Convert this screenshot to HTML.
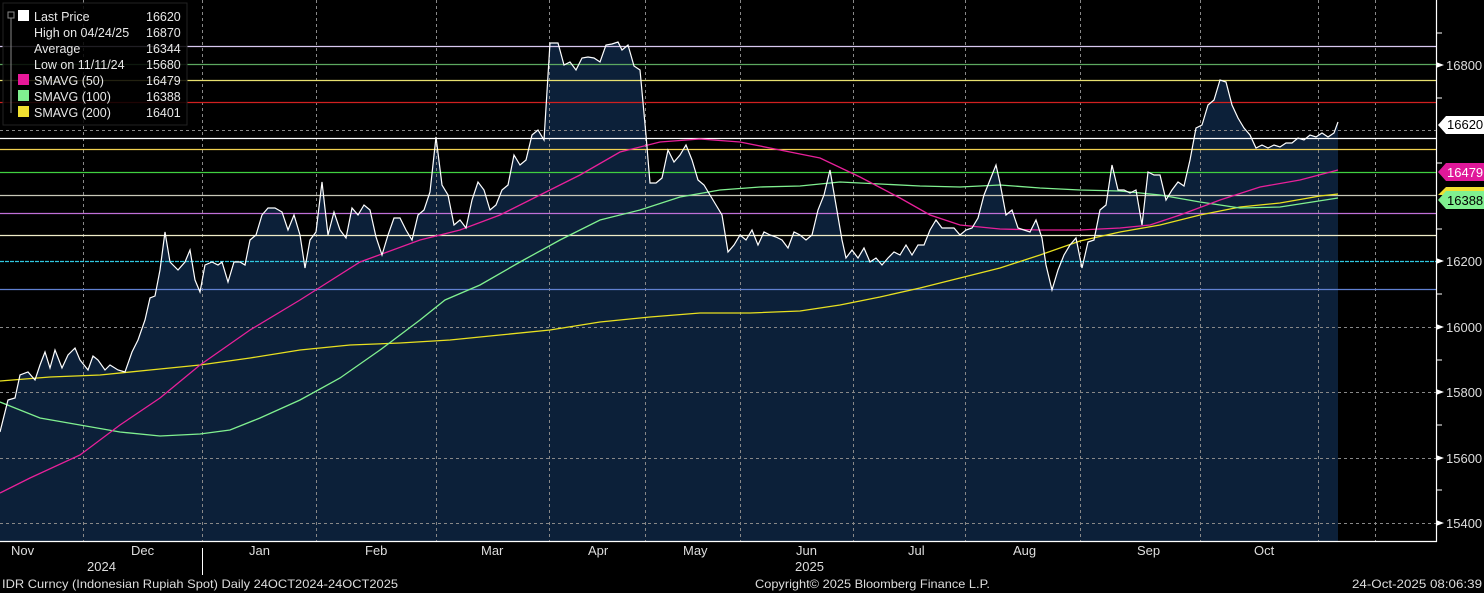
<!DOCTYPE html>
<html><head><style>
html,body{margin:0;padding:0;background:#000;}
svg{display:block;font-family:"Liberation Sans","DejaVu Sans",sans-serif;}
</style></head><body>
<svg width="1484" height="593" viewBox="0 0 1484 593" xmlns="http://www.w3.org/2000/svg">
<rect width="1484" height="593" fill="#000"/>
<polygon fill="#0c2039" points="0,541 0,432 8,400 15,398 20,375 28,372 35,380 40,365 45,352 50,368 55,350 62,368 68,355 75,348 80,360 88,370 93,356 98,360 105,370 110,365 118,370 125,372 132,352 138,340 145,320 150,298 155,296 160,270 165,232 170,262 178,270 185,262 190,250 195,280 200,292 205,265 212,262 218,265 222,262 228,282 234,262 240,262 245,265 250,240 256,235 262,215 268,208 275,208 282,212 288,230 294,215 300,235 305,268 310,240 316,232 322,182 328,235 334,212 340,230 346,238 352,208 358,215 364,205 370,210 376,237 382,255 388,235 394,218 400,218 406,230 412,240 418,215 424,210 430,192 436,137 442,185 448,195 454,225 460,220 466,228 472,200 478,182 484,190 490,210 496,205 502,190 508,185 514,155 520,165 526,160 532,135 538,130 544,140 550,43 558,43 564,65 570,62 576,70 582,58 588,57 594,58 600,62 606,45 612,44 618,42 622,50 628,45 634,66 640,70 646,135 650,183 656,183 662,178 668,150 674,162 680,155 686,145 692,160 698,180 704,185 710,195 716,205 722,215 728,252 734,245 740,235 746,240 752,230 758,245 764,232 770,235 776,237 782,240 788,248 794,232 800,235 806,240 812,235 818,210 824,195 830,170 836,205 842,240 846,258 852,250 858,258 864,248 870,262 876,258 882,265 888,258 894,252 900,255 906,245 912,255 918,245 924,245 930,230 936,220 942,228 948,228 954,228 960,235 966,230 972,228 978,218 984,195 990,180 996,165 1000,183 1006,215 1012,210 1018,228 1024,230 1030,232 1036,220 1042,238 1046,265 1052,290 1058,270 1064,255 1070,245 1076,238 1082,268 1088,242 1094,240 1100,210 1106,205 1112,165 1118,190 1124,190 1130,193 1136,190 1142,225 1148,172 1154,175 1160,175 1166,200 1172,190 1178,182 1184,186 1190,160 1196,128 1202,125 1208,105 1214,100 1220,80 1226,82 1232,105 1238,118 1244,128 1250,135 1256,148 1262,145 1268,148 1274,145 1280,147 1286,143 1292,143 1298,138 1304,140 1310,135 1316,137 1322,133 1328,137 1334,133 1338,122 1338,541"/>
<g stroke="#888" stroke-width="1" stroke-dasharray="3,3" fill="none">
<line x1="0" y1="130.5" x2="1436" y2="130.5"/>
<line x1="0" y1="327.5" x2="1436" y2="327.5"/>
<line x1="0" y1="392.5" x2="1436" y2="392.5"/>
<line x1="0" y1="458.5" x2="1436" y2="458.5"/>
<line x1="0" y1="523.5" x2="1436" y2="523.5"/>
<line x1="83.5" y1="0" x2="83.5" y2="541"/>
<line x1="202.5" y1="0" x2="202.5" y2="541"/>
<line x1="316.5" y1="0" x2="316.5" y2="541"/>
<line x1="436.5" y1="0" x2="436.5" y2="541"/>
<line x1="549.5" y1="0" x2="549.5" y2="541"/>
<line x1="645.5" y1="0" x2="645.5" y2="541"/>
<line x1="740.5" y1="0" x2="740.5" y2="541"/>
<line x1="853.5" y1="0" x2="853.5" y2="541"/>
<line x1="965.5" y1="0" x2="965.5" y2="541"/>
<line x1="1080.5" y1="0" x2="1080.5" y2="541"/>
<line x1="1200.5" y1="0" x2="1200.5" y2="541"/>
<line x1="1318.5" y1="0" x2="1318.5" y2="541"/>
<line x1="1375.5" y1="0" x2="1375.5" y2="541"/>
</g>
<g stroke-width="1.2">
<line x1="0" y1="46.5" x2="1436" y2="46.5" stroke="#d8c8f0"/>
<line x1="0" y1="64.5" x2="1436" y2="64.5" stroke="#5ca860"/>
<line x1="0" y1="80.5" x2="1436" y2="80.5" stroke="#e8e070"/>
<line x1="0" y1="102.5" x2="1436" y2="102.5" stroke="#d02020"/>
<line x1="0" y1="138.5" x2="1436" y2="138.5" stroke="#ffffff"/>
<line x1="0" y1="149.5" x2="1436" y2="149.5" stroke="#f0d050"/>
<line x1="0" y1="172.5" x2="1436" y2="172.5" stroke="#40d040"/>
<line x1="0" y1="195.5" x2="1436" y2="195.5" stroke="#c8c8b8"/>
<line x1="0" y1="213.5" x2="1436" y2="213.5" stroke="#c070d8"/>
<line x1="0" y1="235.5" x2="1436" y2="235.5" stroke="#f0ecc8"/>
<line x1="0" y1="261.5" x2="1436" y2="261.5" stroke="#30c8e0" stroke-dasharray="4,1"/>
<line x1="0" y1="289.5" x2="1436" y2="289.5" stroke="#6080d0"/>
</g>
<polyline fill="none" stroke="#e8e020" stroke-width="1.3" points="0,381 50,377 100,375 150,370 200,365 250,358 300,350 350,345 400,343 450,340 500,335 550,330 600,322 650,317 700,313 750,313 800,311 840,305 880,297 920,288 960,278 1000,268 1040,255 1080,241 1120,232 1160,225 1200,215 1240,207 1280,203 1320,196 1338,194"/>
<polyline fill="none" stroke="#80f090" stroke-width="1.3" points="0,402 40,418 80,425 120,432 160,436 200,434 230,430 260,418 300,400 340,378 380,350 420,320 445,300 480,285 520,262 560,240 600,220 640,210 680,197 720,190 760,187 800,186 840,182 880,184 920,186 960,187 1000,185 1040,188 1080,190 1120,191 1160,195 1200,202 1240,208 1280,207 1338,198"/>
<polyline fill="none" stroke="#e8209a" stroke-width="1.3" points="0,493 30,478 80,455 120,425 160,398 200,365 250,330 300,300 360,262 420,240 460,230 500,215 540,195 580,175 620,152 660,142 700,139 740,142 780,150 820,158 860,177 900,198 930,215 960,225 1000,229 1040,230 1080,230 1120,228 1150,225 1180,215 1220,200 1260,187 1300,180 1338,170"/>
<polyline fill="none" stroke="#ffffff" stroke-width="1.2" points="0,432 8,400 15,398 20,375 28,372 35,380 40,365 45,352 50,368 55,350 62,368 68,355 75,348 80,360 88,370 93,356 98,360 105,370 110,365 118,370 125,372 132,352 138,340 145,320 150,298 155,296 160,270 165,232 170,262 178,270 185,262 190,250 195,280 200,292 205,265 212,262 218,265 222,262 228,282 234,262 240,262 245,265 250,240 256,235 262,215 268,208 275,208 282,212 288,230 294,215 300,235 305,268 310,240 316,232 322,182 328,235 334,212 340,230 346,238 352,208 358,215 364,205 370,210 376,237 382,255 388,235 394,218 400,218 406,230 412,240 418,215 424,210 430,192 436,137 442,185 448,195 454,225 460,220 466,228 472,200 478,182 484,190 490,210 496,205 502,190 508,185 514,155 520,165 526,160 532,135 538,130 544,140 550,43 558,43 564,65 570,62 576,70 582,58 588,57 594,58 600,62 606,45 612,44 618,42 622,50 628,45 634,66 640,70 646,135 650,183 656,183 662,178 668,150 674,162 680,155 686,145 692,160 698,180 704,185 710,195 716,205 722,215 728,252 734,245 740,235 746,240 752,230 758,245 764,232 770,235 776,237 782,240 788,248 794,232 800,235 806,240 812,235 818,210 824,195 830,170 836,205 842,240 846,258 852,250 858,258 864,248 870,262 876,258 882,265 888,258 894,252 900,255 906,245 912,255 918,245 924,245 930,230 936,220 942,228 948,228 954,228 960,235 966,230 972,228 978,218 984,195 990,180 996,165 1000,183 1006,215 1012,210 1018,228 1024,230 1030,232 1036,220 1042,238 1046,265 1052,290 1058,270 1064,255 1070,245 1076,238 1082,268 1088,242 1094,240 1100,210 1106,205 1112,165 1118,190 1124,190 1130,193 1136,190 1142,225 1148,172 1154,175 1160,175 1166,200 1172,190 1178,182 1184,186 1190,160 1196,128 1202,125 1208,105 1214,100 1220,80 1226,82 1232,105 1238,118 1244,128 1250,135 1256,148 1262,145 1268,148 1274,145 1280,147 1286,143 1292,143 1298,138 1304,140 1310,135 1316,137 1322,133 1328,137 1334,133 1338,122"/>
<line x1="1436.5" y1="0" x2="1436.5" y2="542" stroke="#fff" stroke-width="1.2"/>
<line x1="0" y1="541.5" x2="1437" y2="541.5" stroke="#fff" stroke-width="1.2"/>
<g stroke="#fff" stroke-width="1">
<line x1="1436" y1="33" x2="1442" y2="33"/><line x1="1436" y1="98" x2="1442" y2="98"/><line x1="1436" y1="163" x2="1442" y2="163"/><line x1="1436" y1="229" x2="1442" y2="229"/><line x1="1436" y1="294" x2="1442" y2="294"/><line x1="1436" y1="360" x2="1442" y2="360"/><line x1="1436" y1="425" x2="1442" y2="425"/><line x1="1436" y1="490" x2="1442" y2="490"/>
</g>
<g fill="#fff"><polygon points="1436,62 1444,65 1436,68"/><polygon points="1436,258 1444,261 1436,264"/><polygon points="1436,324 1444,327 1436,330"/><polygon points="1436,389 1444,392 1436,395"/><polygon points="1436,455 1444,458 1436,461"/><polygon points="1436,520 1444,523 1436,526"/></g>
<g fill="#ddd" font-size="13">
<text x="1446" y="70">16800</text><text x="1446" y="266">16200</text><text x="1446" y="332">16000</text><text x="1446" y="397">15800</text><text x="1446" y="463">15600</text><text x="1446" y="528">15400</text>
</g>
<polygon points="1438,125 1446,116 1484,116 1484,134 1446,134" fill="#fff"/>
<text x="1447" y="129" font-size="13" fill="#000">16620</text>
<polygon points="1438,195 1446,187 1484,187 1484,195" fill="#f0e030"/>
<polygon points="1438,172 1446,163 1484,163 1484,181 1446,181" fill="#e0189a"/>
<text x="1447" y="177" font-size="13" fill="#fff">16479</text>
<polygon points="1438,200 1446,191 1484,191 1484,209 1446,209" fill="#80f090"/>
<text x="1447" y="205" font-size="13" fill="#000">16388</text>
<g stroke="#fff"><line x1="202.5" y1="548" x2="202.5" y2="575"/></g>
<g fill="#ddd" font-size="13">
<text x="11" y="555">Nov</text><text x="131" y="555">Dec</text><text x="249" y="555">Jan</text><text x="365" y="555">Feb</text><text x="481" y="555">Mar</text><text x="588" y="555">Apr</text><text x="683" y="555">May</text><text x="796" y="555">Jun</text><text x="908" y="555">Jul</text><text x="1013" y="555">Aug</text><text x="1137" y="555">Sep</text><text x="1254" y="555">Oct</text>
<text x="87" y="571">2024</text><text x="795" y="571">2025</text>
<text x="2" y="588" font-size="12" textLength="396" lengthAdjust="spacingAndGlyphs">IDR Curncy (Indonesian Rupiah Spot) Daily 24OCT2024-24OCT2025</text>
<text x="755" y="588" font-size="12" textLength="235" lengthAdjust="spacingAndGlyphs">Copyright© 2025 Bloomberg Finance L.P.</text>
<text x="1352" y="588" font-size="12" textLength="130" lengthAdjust="spacingAndGlyphs">24-Oct-2025 08:06:39</text>
</g>
<rect x="3" y="3" width="184" height="122" fill="#000" fill-opacity="0.85" stroke="#222"/>
<g stroke="#888" fill="none"><rect x="8" y="12" width="6" height="6"/><line x1="11" y1="18" x2="11" y2="113"/></g>
<g font-size="12.5" fill="#e8e8e8">
<rect x="18" y="10" width="11" height="11" fill="#fff"/><text x="34" y="21">Last Price</text><text x="146" y="21">16620</text>
<text x="34" y="37">High on 04/24/25</text><text x="146" y="37">16870</text>
<text x="34" y="53">Average</text><text x="146" y="53">16344</text>
<text x="34" y="69">Low on 11/11/24</text><text x="146" y="69">15680</text>
<rect x="18" y="74" width="11" height="11" fill="#e8189a"/><text x="34" y="85">SMAVG (50)</text><text x="146" y="85">16479</text>
<rect x="18" y="90" width="11" height="11" fill="#80f090"/><text x="34" y="101">SMAVG (100)</text><text x="146" y="101">16388</text>
<rect x="18" y="106" width="11" height="11" fill="#f0e030"/><text x="34" y="117">SMAVG (200)</text><text x="146" y="117">16401</text>
</g>
</svg>
</body></html>
